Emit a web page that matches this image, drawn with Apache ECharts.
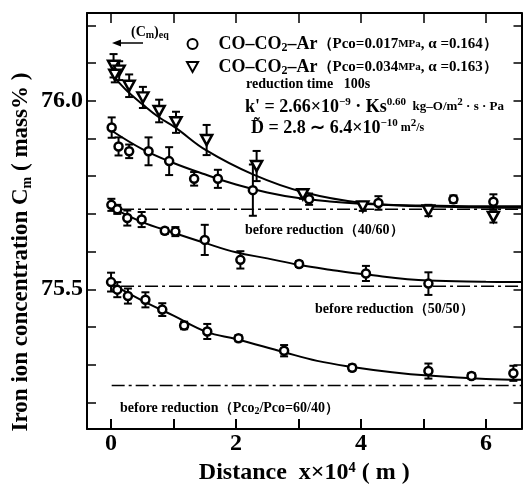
<!DOCTYPE html>
<html><head><meta charset="utf-8">
<script src="https://cdn.jsdelivr.net/npm/echarts@6/dist/echarts.min.js"></script>
<style>html,body{margin:0;padding:0;background:#fff}#c{width:523px;height:490px}</style>
</head><body><div id="c"></div>
<script>
// ---- axis ticks / labels ----
const xTicks = [0, 1, 2, 3, 4, 5, 6];
const xLabels = [0, 2, 4, 6];
const yTicks = [75.2, 75.3, 75.4, 75.5, 75.6, 75.7, 75.8, 75.9, 76.0, 76.1, 76.2];
const yLabels = [75.5, 76.0];

// ---- series names ----
const name017 = 'CO–CO2–Ar (Pco=0.017MPa, α =0.164)';
const name034 = 'CO–CO2–Ar (Pco=0.034MPa, α =0.163)';

// ---- Pco = 0.017 MPa (circles, upper group) ----
const p017X   = [0.01, 0.12, 0.29, 0.60, 0.93, 1.33, 1.71, 2.27, 3.17, 4.28, 5.48, 6.12];
const p017Y   = [75.929, 75.879, 75.866, 75.866, 75.840, 75.793, 75.793, 75.763, 75.739, 75.729, 75.739, 75.732];
const p017Err = [0.027, 0.024, 0.018, 0.037, 0.037, 0.018, 0.024, 0.068, 0.015, 0.018, 0.010, 0.020];
const fit017X = [0, 0.5, 1.0, 1.5, 2.0, 2.5, 3.0, 3.5, 4.0, 5.0, 6.0, 6.57];
const fit017Y = [75.922, 75.872, 75.835, 75.805, 75.778, 75.757, 75.742, 75.733, 75.727, 75.720, 75.717, 75.716];

// ---- Pco = 0.034 MPa (triangles) ----
const p034X   = [0.04, 0.13, 0.06, 0.29, 0.51, 0.77, 1.04, 1.53, 2.33, 3.07, 4.03, 5.08, 6.12];
const p034Y   = [76.093, 76.080, 76.069, 76.040, 76.009, 75.973, 75.943, 75.896, 75.827, 75.752, 75.720, 75.709, 75.692];
const p034Err = [0.031, 0.025, 0.020, 0.030, 0.028, 0.030, 0.028, 0.040, 0.040, 0.012, 0.012, 0.015, 0.015];
const fit034X = [0.03, 0.27, 0.51, 0.76, 1.03, 1.52, 2.28, 3.07, 4.03, 5.0, 6.0, 6.57];
const fit034Y = [76.067, 76.024, 75.990, 75.957, 75.929, 75.869, 75.804, 75.758, 75.729, 75.722, 75.720, 75.720];

// ---- middle circles ----
const midX   = [0.005, 0.10, 0.26, 0.49, 0.86, 1.03, 1.50, 2.07, 3.01, 4.08, 5.08];
const midY   = [75.724, 75.712, 75.689, 75.685, 75.655, 75.653, 75.631, 75.578, 75.567, 75.542, 75.515];
const midErr = [0.016, 0.012, 0.020, 0.020, 0.008, 0.012, 0.040, 0.023, 0.008, 0.020, 0.030];
const fitMidX = [0, 0.49, 1.0, 1.5, 2.0, 2.5, 3.0, 3.5, 4.08, 5.08, 6.0, 6.57];
const fitMidY = [75.718, 75.679, 75.650, 75.623, 75.598, 75.582, 75.565, 75.552, 75.539, 75.523, 75.520, 75.519];

// ---- bottom circles ----
const lowX   = [0.0, 0.10, 0.27, 0.55, 0.82, 1.17, 1.54, 2.04, 2.77, 3.86, 5.08, 5.77, 6.44];
const lowY   = [75.519, 75.499, 75.482, 75.472, 75.446, 75.404, 75.388, 75.370, 75.337, 75.292, 75.283, 75.270, 75.277];
const lowErr = [0.025, 0.020, 0.020, 0.020, 0.017, 0.010, 0.020, 0.008, 0.015, 0.008, 0.020, 0.008, 0.020];
const fitLowX = [0, 0.5, 1.0, 1.53, 2.0, 2.77, 3.3, 3.86, 4.5, 5.08, 6.0, 6.57];
const fitLowY = [75.515, 75.470, 75.430, 75.387, 75.368, 75.333, 75.310, 75.294, 75.280, 75.271, 75.262, 75.260];

// ---- before-reduction reference levels ----
const refLevels = [75.712, 75.508, 75.245];
const refStartX = [0.16, 0.16, 0.01];
const refLabels = ['before reduction（40/60）', 'before reduction（50/50）', 'before reduction（Pco2/Pco=60/40）'];

const X_MIN = -0.385, X_MAX = 6.57, Y_MIN = 75.129, Y_MAX = 76.233;
const FONT = '"Liberation Serif","Times New Roman",serif';

const zip = (xs, ys) => xs.map((x, i) => [x, ys[i]]);
const errData = (xs, ys, es) => xs.map((x, i) => [x, ys[i] - es[i], ys[i] + es[i]]);

function errRender(params, api) {
  const x = api.value(0), lo = api.value(1), hi = api.value(2);
  const a = api.coord([x, hi]), b = api.coord([x, lo]);
  const w = 4, st = {stroke: '#000', lineWidth: 2};
  return {type: 'group', children: [
    {type: 'line', shape: {x1: a[0], y1: a[1], x2: b[0], y2: b[1]}, style: st},
    {type: 'line', shape: {x1: a[0] - w, y1: a[1], x2: a[0] + w, y2: a[1]}, style: st},
    {type: 'line', shape: {x1: b[0] - w, y1: b[1], x2: b[0] + w, y2: b[1]}, style: st}
  ]};
}
function errSeries(xs, ys, es) {
  return {type: 'custom', renderItem: errRender, data: errData(xs, ys, es),
    encode: {x: 0, y: [1, 2]}, z: 2, silent: true};
}
const markStyle = {color: '#fff', borderColor: '#000', borderWidth: 2.5, opacity: 1};
function scatter(name, xs, ys, symbol, size) {
  return {type: 'scatter', name: name, data: zip(xs, ys), symbol: symbol, symbolSize: size,
    itemStyle: markStyle, z: 5};
}
function fitLine(xs, ys) {
  return {type: 'line', data: zip(xs, ys), smooth: 0.4, showSymbol: false, z: 3, silent: true,
    lineStyle: {color: '#000', width: 2}};
}
function refLine(i) {
  return {type: 'line', data: [[refStartX[i], refLevels[i]], [X_MAX, refLevels[i]]], showSymbol: false,
    z: 1, silent: true, lineStyle: {color: '#000', width: 1.5, type: [13, 4, 3, 4]}};
}
const triPath = 'path://M0,0L10,0L5,9Z';

const axisCommon = {
  axisLine: {show: true, onZero: false, lineStyle: {color: '#000', width: 2}},
  splitLine: {show: false}
};

const chart = echarts.init(document.getElementById('c'), null, {renderer: 'canvas'});
chart.setOption({
  animation: false,
  backgroundColor: '#fff',
  grid: {left: 87, right: 1.5, top: 13, bottom: 51},
  xAxis: [
    Object.assign({type: 'value', position: 'bottom', min: X_MIN, max: X_MAX,
      name: 'Distance  x×10⁴ ( m )', nameLocation: 'middle', nameGap: 17,
      nameTextStyle: {fontFamily: FONT, fontWeight: 'bold', fontSize: 24, color: '#000'},
      axisTick: {inside: true, length: 10, customValues: xTicks, lineStyle: {color: '#000', width: 2}},
      axisLabel: {customValues: xLabels, margin: 3, fontFamily: FONT, fontWeight: 'bold', fontSize: 24, color: '#000'}
    }, axisCommon),
    Object.assign({type: 'value', position: 'top', min: X_MIN, max: X_MAX,
      axisTick: {inside: true, length: 10, customValues: xTicks, lineStyle: {color: '#000', width: 1.5}},
      axisLabel: {show: false}
    }, axisCommon)
  ],
  yAxis: [
    Object.assign({type: 'value', position: 'left', min: Y_MIN, max: Y_MAX,
      axisTick: {inside: true, length: 9, customValues: yTicks, lineStyle: {color: '#000', width: 1.5}},
      axisLabel: {customValues: yLabels, margin: 4, formatter: v => v.toFixed(1),
        fontFamily: FONT, fontWeight: 'bold', fontSize: 24, color: '#000'}
    }, axisCommon),
    Object.assign({type: 'value', position: 'right', min: Y_MIN, max: Y_MAX,
      axisTick: {inside: true, length: 8, customValues: yTicks, lineStyle: {color: '#000', width: 1.5}},
      axisLabel: {show: false}
    }, axisCommon)
  ],
  legend: {
    orient: 'vertical', left: 181, top: 29, itemWidth: 42, itemHeight: 10, itemGap: 3,
    selectedMode: false,
    data: [{name: name017, icon: 'circle'}, {name: name034, icon: triPath}],
    formatter: n => n === name017
      ? '{a|CO–CO}{s|2}{a|–Ar}{b|（Pco=0.017}{c|MPa}{b|, α =0.164）}'
      : '{a|CO–CO}{s|2}{a|–Ar}{b|（Pco=0.034}{c|MPa}{b|, α =0.163）}',
    textStyle: {fontFamily: FONT, fontWeight: 'bold', color: '#000', lineHeight: 20,
      rich: {
        a: {fontFamily: FONT, fontWeight: 'bold', fontSize: 18, lineHeight: 20},
        s: {fontFamily: FONT, fontWeight: 'bold', fontSize: 12, lineHeight: 20, verticalAlign: 'bottom'},
        b: {fontFamily: FONT, fontWeight: 'bold', fontSize: 15, lineHeight: 20},
        c: {fontFamily: FONT, fontWeight: 'bold', fontSize: 11, lineHeight: 20}
      }}
  },
  series: [
    refLine(0), refLine(1), refLine(2),
    errSeries(p017X, p017Y, p017Err), errSeries(p034X, p034Y, p034Err),
    errSeries(midX, midY, midErr), errSeries(lowX, lowY, lowErr),
    fitLine(fit017X, fit017Y), fitLine(fit034X, fit034Y), fitLine(fitMidX, fitMidY), fitLine(fitLowX, fitLowY),
    scatter(name017, p017X, p017Y, 'circle', 8),
    scatter(name034, p034X, p034Y, triPath, [11, 10]),
    scatter('mid', midX, midY, 'circle', 8),
    scatter('low', lowX, lowY, 'circle', 8)
  ],
  graphic: [
    {type: 'text', x: 21.5, y: 252, rotation: Math.PI / 2, style: {
      text: '{a|Iron ion concentration C}{s|m}{a| ( mass% )}', fill: '#000', align: 'center', verticalAlign: 'middle',
      rich: {a: {fontFamily: FONT, fontWeight: 'bold', fontSize: 23, lineHeight: 26},
             s: {fontFamily: FONT, fontWeight: 'bold', fontSize: 14, lineHeight: 26, verticalAlign: 'bottom'}}}},
    {type: 'text', left: 131, top: 25, style: {text: '{a|(C}{s|m}{a|)}{s|eq}', fill: '#000',
      rich: {a: {fontFamily: FONT, fontWeight: 'bold', fontSize: 14, lineHeight: 17},
             s: {fontFamily: FONT, fontWeight: 'bold', fontSize: 10, lineHeight: 17, verticalAlign: 'bottom'}}}},
    {type: 'line', shape: {x1: 143, y1: 43, x2: 117, y2: 43}, style: {stroke: '#000', lineWidth: 1.5}},
    {type: 'polygon', shape: {points: [[112, 43], [121, 39.5], [121, 46.5]]}, style: {fill: '#000'}},
    {type: 'text', left: 246, top: 77, style: {text: 'reduction time   100s', fill: '#000',
      font: 'bold 14px ' + FONT}},
    {type: 'text', left: 245, top: 97, style: {
      text: "{a|k' = 2.66×10}{p|−9}{a| · Ks}{p|0.60}{u|  kg–O/m}{p|2}{u| · s · Pa}", fill: '#000',
      rich: {a: {fontFamily: FONT, fontWeight: 'bold', fontSize: 18, lineHeight: 20},
             p: {fontFamily: FONT, fontWeight: 'bold', fontSize: 11, lineHeight: 20, verticalAlign: 'top'},
             u: {fontFamily: FONT, fontWeight: 'bold', fontSize: 13, lineHeight: 20}}}},
    {type: 'text', left: 251, top: 118, style: {
      text: "{a|D̃ = 2.8 ∼ 6.4×10}{p|−10}{u| m}{p|2}{u|/s}", fill: '#000',
      rich: {a: {fontFamily: FONT, fontWeight: 'bold', fontSize: 18, lineHeight: 20},
             p: {fontFamily: FONT, fontWeight: 'bold', fontSize: 11, lineHeight: 20, verticalAlign: 'top'},
             u: {fontFamily: FONT, fontWeight: 'bold', fontSize: 12, lineHeight: 20}}}},
    {type: 'text', left: 245, top: 223, style: {text: refLabels[0], fill: '#000', font: 'bold 14px ' + FONT}},
    {type: 'text', left: 315, top: 302, style: {text: refLabels[1], fill: '#000', font: 'bold 14px ' + FONT}},
    {type: 'text', left: 120, top: 401, style: {
      text: '{a|before reduction（Pco}{s|2}{a|/Pco=60/40）}', fill: '#000',
      rich: {a: {fontFamily: FONT, fontWeight: 'bold', fontSize: 14, lineHeight: 17},
             s: {fontFamily: FONT, fontWeight: 'bold', fontSize: 10, lineHeight: 17, verticalAlign: 'bottom'}}}}
  ]
});
</script>
</body></html>
